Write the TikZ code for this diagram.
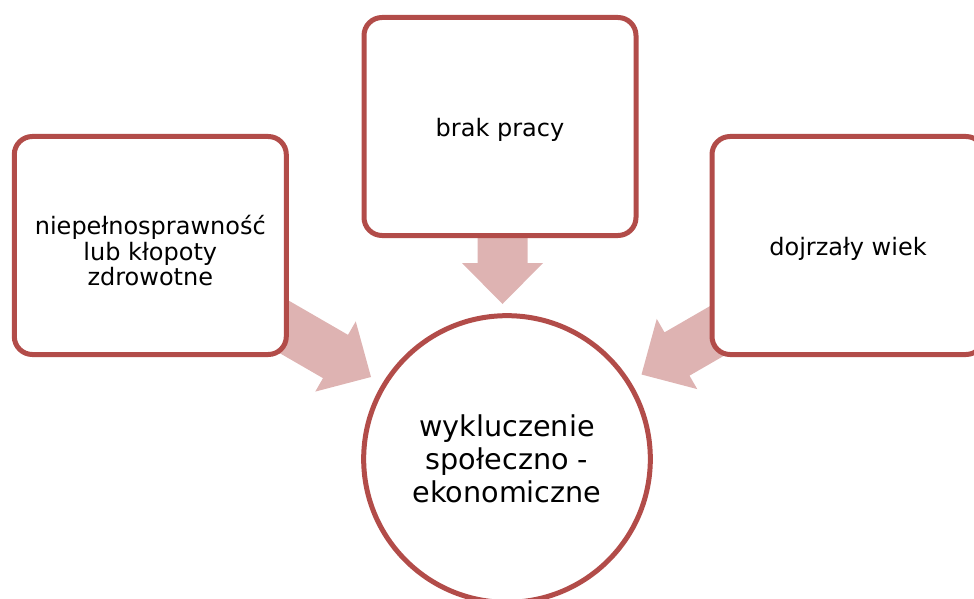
\documentclass[tikz,border=0pt]{standalone}
\usepackage{fontspec}
\setmainfont{DejaVu Sans}
\usepackage{xcolor}
\usepackage{tikz}
\definecolor{obwod}{RGB}{178,76,73}
\definecolor{strzalka}{RGB}{222,179,178}

\begin{document}
\begin{tikzpicture}[x=0.75pt,y=0.75pt,yscale=-1,xscale=1,
  przyczyna/.style={draw=obwod, line width=3.75pt, fill=white,
    rounded corners=13.5pt, minimum width=204pt, minimum height=163.5pt,
    inner sep=0.75pt},
  opis/.style={align=center, inner sep=0.75pt,
    font=\fontsize{18}{19}\selectfont},
  skutek/.style={circle, draw=obwod, line width=3.75pt, fill=white,
    minimum size=215pt, align=center, inner sep=0.75pt,
    font=\fontsize{21.5}{24.75}\selectfont},
  strz/.style={fill=strzalka, draw=none}]
%set diagram left start at 0, and has height of 599
\clip (0,0) rectangle (974,599);

%Shape: Down Arrow [brak pracy]
\fill[strz] (477.5,220) -- (527.5,220) -- (527.5,263) -- (543,263) --
(502.5,304) -- (462,263) -- (477.5,263) -- cycle ;
%Shape: Right Arrow [niepelnosprawnosc]
\fill[strz] (279.6,295.35) -- (348,334.85) -- (355.75,321.4) -- (371,377) --
(315.25,391.6) -- (323,378.15) -- (254.6,338.65) -- cycle ;
%Shape: Left Arrow [dojrzaly wiek]
\fill[strz] (732.9,292.85) -- (664.5,332.35) -- (656.75,318.9) --
(641.5,374.5) -- (697.25,389.1) -- (689.5,375.65) -- (757.9,336.15) -- cycle ;

%Shape: Rounded Rectangle
\node[przyczyna] (niepelno) at (150.3,245.5) {};
%Shape: Rounded Rectangle
\node[przyczyna] (brak) at (500,126.5) {};
%Shape: Rounded Rectangle
\node[przyczyna] (wiek) at (848,245.5) {};

% Text Node
\node[opis] (niepelnoT) at ([yshift=4pt]niepelno.center)
{niepełnosprawność\\lub kłopoty\\zdrowotne};
% Text Node
\node[opis] (brakT) at ([yshift=2.5pt]brak.center) {brak pracy};
% Text Node
\node[opis] (wiekT) at ([yshift=2.5pt]wiek.center) {dojrzały wiek};
% Text Node
\node[skutek] (wykluczenie) at (507,459)
{wykluczenie\\społeczno -\\ekonomiczne};

\end{tikzpicture}
\end{document}
